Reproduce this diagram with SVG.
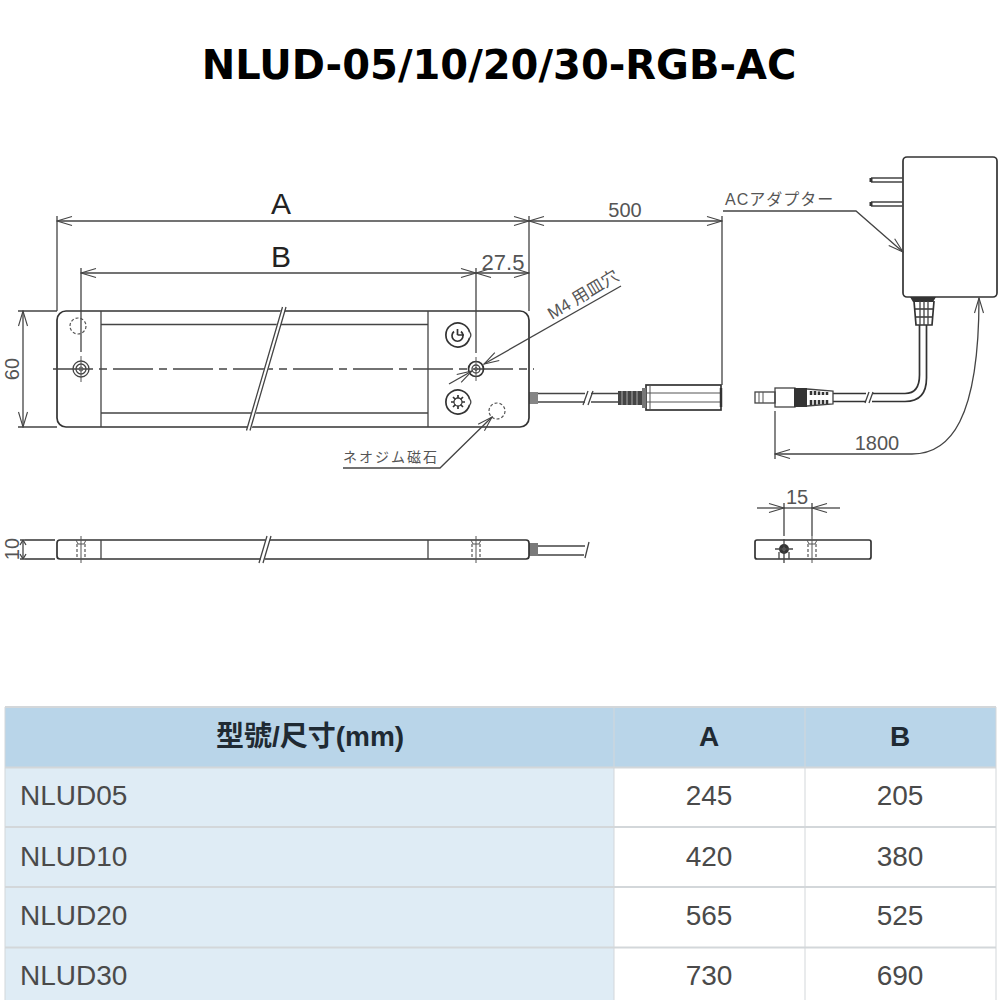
<svg xmlns="http://www.w3.org/2000/svg" width="1000" height="1000" viewBox="0 0 1000 1000">
<style>
.l{fill:none;stroke:#444;stroke-width:1.3}
.h{fill:none;stroke:#333;stroke-width:1.7}
.t{fill:none;stroke:#555;stroke-width:1}
.d{fill:none;stroke:#555;stroke-width:1.2;stroke-dasharray:3 2}
.k{fill:#333;stroke:none}
.w{fill:#fff;stroke:none}
.dt{font-family:"Liberation Sans","Noto Sans CJK JP",sans-serif;fill:#555}
.th{font-family:"Liberation Sans","Noto Sans CJK TC",sans-serif;font-size:28px;font-weight:bold;fill:#1f2a33}
.td{font-family:"Liberation Sans",sans-serif;font-size:28px;fill:#4a4a4a}
.m{text-anchor:middle}
.cell{stroke:#d3d7da;stroke-width:2}
</style>
<defs>
<marker id="a" markerWidth="17" markerHeight="12" refX="16" refY="6" orient="auto-start-reverse" markerUnits="userSpaceOnUse"><path d="M1 1.500L16 6L1 10.500" fill="none" stroke="#444" stroke-width="1.1"/></marker>
</defs>
<rect width="1000" height="1000" fill="#fff"/>
<text id="title" x="499" y="79" class="m" font-family="DejaVu Sans,sans-serif" font-weight="bold" font-size="40" fill="#000">NLUD-05/10/20/30-RGB-AC</text>

<g id="bar-front">
<rect class="h" x="57" y="311" width="472" height="116" rx="9"/>
<path class="l" d="M101 311V427M428 311V427M101 324.500H428M101 413H428"/>
<path class="l" d="M53 369H534" stroke-dasharray="40 6 8 6"/>
<circle class="d" cx="78" cy="326" r="8"/>
<circle class="l" cx="81" cy="369" r="8"/><circle class="l" cx="81" cy="369" r="5"/><circle class="t" cx="81" cy="369" r="2"/>
<path class="t" d="M81 356V382"/>
<circle class="h" cx="476" cy="369" r="7.500"/><circle class="l" cx="476" cy="369" r="4"/><circle class="t" cx="476" cy="369" r="1.500"/>
<path class="t" d="M476 357V381"/>
<circle class="d" cx="497" cy="411" r="8"/>
<path class="w" d="M282 306L286 306L251 431L246 431Z"/>
<path class="l" d="M282.500 307L246.500 430.500M286 307L250 430.500"/>
</g>
<g id="knob-power">
<path class="h" d="M469.500 338A12 12 0 1 1 469.500 332"/>
<path class="l" d="M469.500 332A4 4 0 0 1 469.500 338"/>
<path class="h" stroke-width="2" d="M454 331.500A5.500 5.500 0 1 0 461 331.500"/>
<path class="h" d="M457.500 335H464M457.500 329V335"/>
</g>
<g id="knob-color">
<path class="h" d="M469.500 405A12 12 0 1 1 469.500 399"/>
<path class="l" d="M469.500 399A4 4 0 0 1 469.500 405"/>
<circle class="l" cx="458" cy="402" r="4"/>
<path class="h" d="M458 395V398M458 406V409M451 402H454M462 402H465M453 397L455.500 399.500M460.500 404.500L463 407M453 407L455.500 404.500M460.500 399.500L463 397"/>
</g>
<g id="cable-socket">
<rect class="k" x="529" y="392" width="9" height="12" opacity=".6"/>
<path class="l" d="M538 393.500H618M538 402H618"/>
<path class="w" d="M585 388H591V407H585Z"/>
<path class="l" d="M583 405L588 391M588 405L593 391"/>
<rect x="618" y="391" width="24" height="14" fill="#444"/>
<path d="M622 391V405M627 391V405M632 391V405M637 391V405" stroke="#aaa" stroke-width="1" fill="none"/>
<rect class="h" x="646" y="385" width="75" height="25"/>
<path class="t" d="M650 385V410M646 393H721M646 402H721"/>
<path d="M642 388H646V408H642Z" fill="#777"/>
<path d="M721 388V407" stroke="#333" stroke-width="2.500" fill="none"/>
</g>
<g id="adapter">
<rect class="h" x="903" y="157" width="94" height="140" rx="4"/>
<path class="l" d="M871 178H903M871 182H903M871 202H903M871 206H903"/>
<path d="M871 178V182M871 202V206" stroke="#333" stroke-width="3" fill="none"/>
<path class="k" d="M910 297H936L933 302H913Z"/>
<path class="h" d="M914 301L916 325H932L934 301M915 309H933M915 317H932"/>
<path class="l" d="M920 301V325M924 301V325M928 301V325"/>
<path class="h" d="M919.500 325V375Q919.500 393.500 905 393.500H872M926.500 325V378Q926.500 401.500 905 401.500H872"/>
<path class="w" d="M866 390H872V405H866Z"/>
<path class="l" d="M865 403L869 392M869 403L873 392"/>
<path class="h" d="M866 393.500H833M866 401.500H833"/>
</g>
<g id="dc-plug">
<rect class="l" x="755" y="392" width="20" height="11"/>
<path class="t" d="M759 392V403M763 392V403"/>
<rect class="l" x="775" y="388" width="20" height="19"/>
<rect x="794" y="388" width="13" height="19" fill="#333"/>
<path class="l" d="M807 389L833 391V404L807 406"/>
<path d="M811 391V395M815 391V395M819 391.500V395M823 392V395M827 392V395M811 400V405M815 400V405M819 400V404.500M823 400V404M827 400V404" stroke="#333" stroke-width="2.500" fill="none"/>
</g>
<g id="bar-side">
<path class="h" d="M25 540H55M25 559H55"/>
<rect class="h" x="57" y="540" width="472" height="19" rx="3"/>
<path class="l" d="M101 540V559M428 540V559"/>
<path class="t" d="M81 536V563M476 536V563"/>
<path class="d" d="M77 544V559M85 544V559M472 544V559M480 544V559"/>
<path class="t" d="M76 540L78 544H84L86 540M471 540L473 544H479L481 540"/>
<path class="w" d="M266 538.500L270 538.500L264.500 560.500L260.500 560.500Z"/>
<path class="l" d="M259 563L267 536M263 563L271 536"/>
<rect class="k" x="529" y="543" width="9" height="13" opacity=".65"/>
<path class="l" d="M538 546H585M538 555H584M589 542L585 558"/>
</g>
<g id="bar-end">
<rect class="h" x="755" y="540" width="116" height="19" rx="2"/>
<circle class="k" cx="784" cy="549" r="5"/>
<circle class="w" cx="784" cy="549" r="1.500"/>
<path class="l" d="M775 549H793M784 539V563M779 552V559M789 552V559"/>
<path class="t" d="M812 536V563"/>
<path class="d" d="M808 544V559M816 544V559"/>
<path class="t" d="M807 540L809 544H815L817 540"/>
</g>

<g id="connectors">
<path class="l" marker-start="url(#a)" marker-end="url(#a)" d="M57 221H529"/>
<path class="l" marker-start="url(#a)" marker-end="url(#a)" d="M529 221H722"/>
<path class="l" marker-start="url(#a)" marker-end="url(#a)" d="M81 273H476"/>
<path class="l" marker-start="url(#a)" marker-end="url(#a)" d="M476 273H529"/>
<path class="l" d="M57 216V311M81 268V352M476 268V353M529 216V311M722 216V385"/>
<path class="l" marker-start="url(#a)" marker-end="url(#a)" d="M23 311V427"/>
<path class="l" d="M18 311H57M18 427H57"/>
<path class="l" marker-end="url(#a)" d="M621 286L484 364"/>
<path class="l" marker-end="url(#a)" d="M449 384L472 371"/>
<path class="l" marker-end="url(#a)" d="M343 468H440L492 417"/>
<path class="l" marker-end="url(#a)" d="M723 211H856L903 252"/>
<path class="l" marker-start="url(#a)" marker-end="url(#a)" d="M775 454H912C950 454 979 420 979 298"/>
<path class="l" d="M775 411V459"/>
<path class="l" d="M23 540V559"/>
<path class="l" d="M23 540L20 545M23 540L26 545M23 559L20 554M23 559L26 554"/>
<path class="l" d="M20 540H25M20 559H25"/>
<path class="l" d="M784 508H812"/>
<path class="l" marker-end="url(#a)" d="M757 508H784"/>
<path class="l" marker-end="url(#a)" d="M840 508H812"/>
<path class="l" d="M784 503V536M812 503V536"/>
</g>

<g id="labels">
<text class="dt m" x="281" y="214" font-size="30" style="fill:#222">A</text>
<text class="dt m" x="281" y="267" font-size="30" style="fill:#222">B</text>
<text class="dt m" x="625" y="217" font-size="20">500</text>
<text class="dt m" x="503" y="270" font-size="22">27.5</text>
<text class="dt m" x="877" y="450" font-size="20">1800</text>
<text class="dt m" x="797" y="504" font-size="20">15</text>
<text class="dt m" font-size="20" transform="translate(19 369) rotate(-90)">60</text>
<text class="dt m" font-size="20" transform="translate(19 549) rotate(-90)">10</text>
<text class="dt" x="725" y="205" font-size="16" letter-spacing="1">ACアダプター</text>
<text class="dt" font-size="17" transform="translate(552 320) rotate(-31)">M4 用皿穴</text>
<text class="dt" x="343" y="462" font-size="14" letter-spacing="2">ネオジム磁石</text>
</g>

<g id="table">
<rect x="5" y="707" width="991" height="61" fill="#b9d5e9"/>
<rect x="5" y="768" width="609" height="232" fill="#dfecf5"/>
<rect x="614" y="768" width="382" height="232" fill="#fff"/>
<path class="cell" d="M5 707H996M5 767.500H996M5 827H996M5 887H996M5 947.500H996"/>
<path class="cell" d="M614 707V1000M805 707V1000M5 707V1000M996 707V1000" style="stroke-width:1"/>
<text class="th m" x="310" y="746">型號/尺寸(mm)</text>
<text class="th m" x="709" y="746">A</text>
<text class="th m" x="900" y="746">B</text>
<text class="td" x="20" y="805">NLUD05</text><text class="td m" x="709" y="805">245</text><text class="td m" x="900" y="805">205</text>
<text class="td" x="20" y="866">NLUD10</text><text class="td m" x="709" y="866">420</text><text class="td m" x="900" y="866">380</text>
<text class="td" x="20" y="925">NLUD20</text><text class="td m" x="709" y="925">565</text><text class="td m" x="900" y="925">525</text>
<text class="td" x="20" y="985">NLUD30</text><text class="td m" x="709" y="985">730</text><text class="td m" x="900" y="985">690</text>
</g>
</svg>
